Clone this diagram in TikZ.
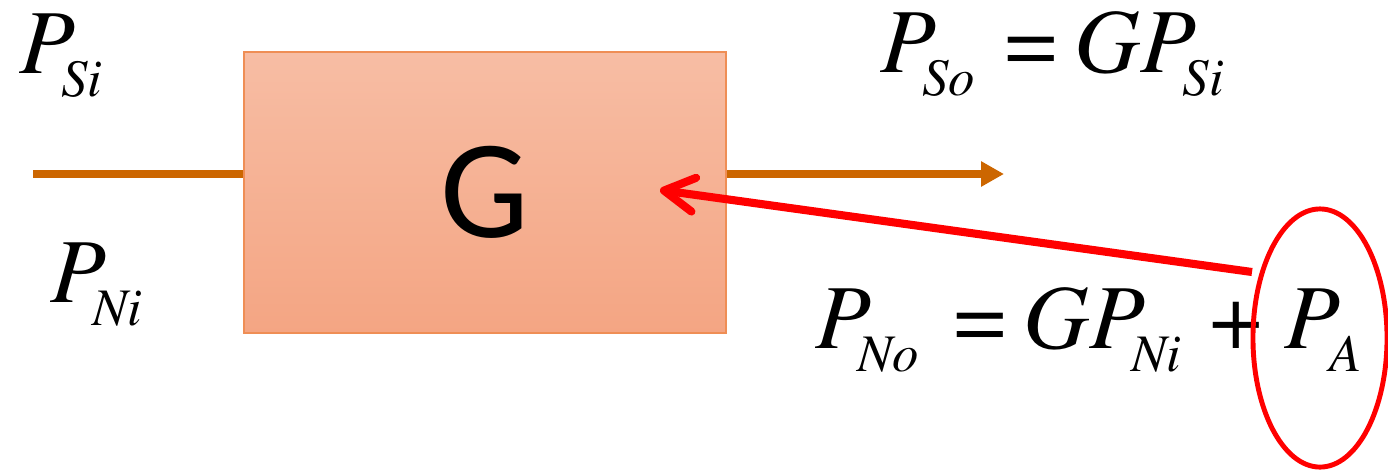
\documentclass[tikz,border=0pt]{standalone}
\usepackage{fontspec}
\newfontfamily\gainfont{Carlito}
\usetikzlibrary{arrows.meta,shapes.geometric}
\definecolor{feedOrange}{HTML}{CC6600}
\definecolor{boxTop}{HTML}{F7BDA4}
\definecolor{boxBottom}{HTML}{F4A583}
\definecolor{boxEdge}{HTML}{EF8E55}
\definecolor{noiseRed}{HTML}{FF0000}
\newcommand{\tmsit}{\usefont{OT1}{ptm}{m}{it}}
\newcommand{\tmsup}{\usefont{OT1}{ptm}{m}{n}}
\newcommand{\bigsz}{\fontsize{26}{26}\selectfont\tmsit}
\newcommand{\subsz}{\fontsize{15}{15}\selectfont\tmsit}
\newcommand{\pw}[1]{P\kern-0.14cm\raisebox{-0.23cm}{\subsz #1}}

\begin{document}
\begin{tikzpicture}[x=0.01cm,y=-0.01cm,
    lbl/.style={anchor=base west,inner sep=0pt,font=\bigsz},
    sig/.style={feedOrange,line width=2.3pt}]
  \useasboundingbox (0,0) rectangle (1388,469);
  % amplifier block
  \node[draw=boxEdge,line width=0.5pt,top color=boxTop,bottom color=boxBottom,
        minimum width=4.82cm,minimum height=2.81cm,inner sep=0pt] (amp) at (485,192.5)
    {\gainfont\fontsize{40}{40}\selectfont G};
  % powers in and out
  \node[lbl] (psi) at (19,73) {\pw{Si}};
  \node[lbl] (pni) at (50,302) {\pw{Ni}};
  \node[lbl] (pso) at (880,72)
    {\pw{So}\hspace{0.3cm}{\tmsup=}\hspace{0.18cm}G\pw{Si}};
  \node[lbl] (pno) at (815,348)
    {\pw{No}\hspace{0.35cm}{\tmsup=}\hspace{0.18cm}G\pw{Ni}\hspace{0.29cm}{\tmsup+}\hspace{0.22cm}P\kern-0.1cm\raisebox{-0.23cm}{\subsz A}};
  \node[ellipse,draw=noiseRed,line width=1.4pt,minimum width=1.34cm,minimum height=2.58cm,
        inner sep=0pt] (mark) at (1320,338) {};
  \coordinate (src) at (33,174);
  \coordinate (sink) at (1004,174);
  \coordinate (tail) at (1252,272);
  \coordinate (head) at (660,190);
  \draw[sig] (src) -- (src -| amp.west);
  \draw[sig,-{Triangle[length=0.23cm,width=0.24cm]}] (amp.east |- sink) -- (sink);
  \draw[noiseRed,line width=2.3pt,-{Straight Barb[length=0.3cm,width=0.34cm,round]}] (tail) -- (head);
\end{tikzpicture}
\end{document}
